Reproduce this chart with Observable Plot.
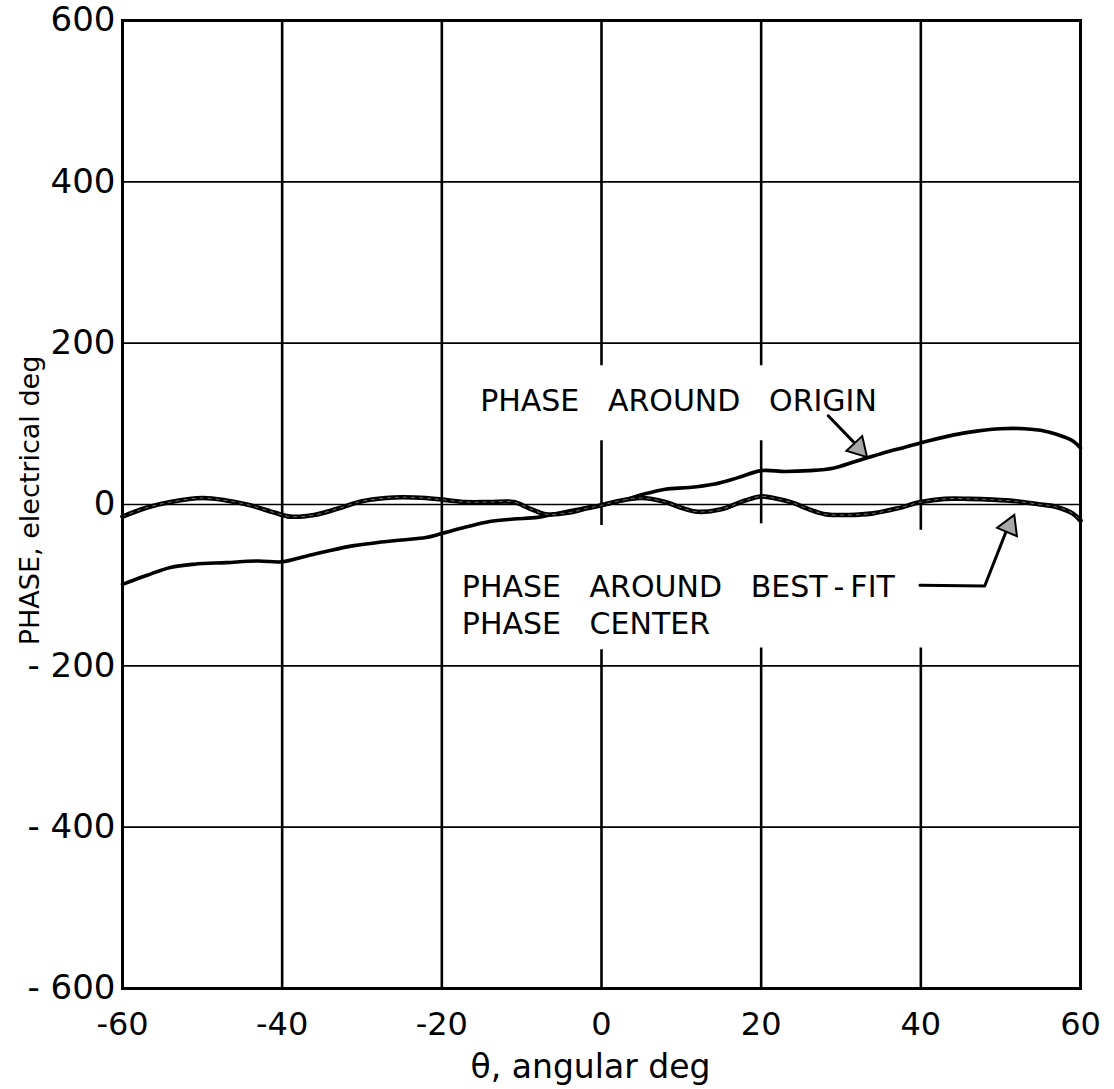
<!DOCTYPE html>
<html>
<head>
<meta charset="utf-8">
<script src="https://cdn.jsdelivr.net/npm/d3@7"></script>
<script src="https://cdn.jsdelivr.net/npm/@observablehq/plot@0.6"></script>
<style>
  body { margin: 0; background: #fff; }
  svg { font-family: "DejaVu Sans", sans-serif; }
</style>
</head>
<body>
<div id="chart"></div>
<script>
// ---- data ----
const xTicks = [-60, -40, -20, 0, 20, 40, 60];
const yTicks = [-600, -400, -200, 0, 200, 400, 600];
const hGrid = [-400, -200, 0, 200, 400];

// vertical grid segments (broken around the annotations)
const vGridX  = [-40, -20, 0, 0, 0, 20, 20, 20, 40, 40];
const vGridY1 = [600, 600, 600, 79, -180, 600, 79, -178, 600, -178];
const vGridY2 = [-600, -600, 172, -26, -600, 172, -24, -600, -32, -600];

// Phase around origin
const originTheta = [-60, -57, -54, -51, -47, -43, -40, -37, -34, -31, -28, -25, -22, -20, -17, -14, -11, -8, -5, -2, 0, 3, 5, 8, 11, 14, 17, 20, 23, 26, 29, 32, 35, 38, 41, 44, 47, 50, 53, 55, 57, 59, 60];
const originPhase = [-99, -88, -78, -74, -72, -70, -71, -64, -57, -51, -47, -44, -41, -36, -28, -21, -18, -16, -10, -4, -1, 6, 12, 19, 21, 25, 33, 42, 41, 42, 45, 54, 63, 71, 79, 86, 91, 94, 94, 92, 87, 79, 70];

// Phase around best-fit phase center
const bestTheta = [-60, -57, -54, -50, -47, -44, -41, -39, -36, -33, -30, -27, -25, -22, -20, -17, -14, -11, -9, -7, -4, -2, 0, 2, 5, 8, 10, 12, 15, 18, 20, 22, 24, 26, 28, 31, 34, 37, 40, 43, 46, 49, 52, 55, 57, 59, 60];
const bestPhase = [-15, -4, 3, 8, 5, -1, -10, -15, -13, -5, 4, 8, 9, 8, 6, 3, 3, 3, -5, -12, -10, -5, -1, 4, 8, 3, -4, -9, -6, 5, 10, 7, 2, -6, -12, -13, -11, -5, 3, 7, 7, 6, 4, 0, -3, -11, -20];

// annotations
const annoText = ["PHASE AROUND ORIGIN", "PHASE AROUND BEST\u2009-\u2009FIT", "PHASE CENTER"];
const annoX = [-15.2, -17.5, -17.5];
const annoY = [116, -115, -161];

// arrows (shaft polylines + heads)
const shaftId = [1, 1, 2, 2, 2];
const shaftX = [28.4, 32.4, 39.9, 48.0, 50.7];
const shaftY = [110, 69, -100, -101, -33];
const headX = [32.2, 51.1];
const headY = [70, -27];
const headAngle = [137, 23];

const xLabel = "θ, angular deg";
const yLabel = "PHASE, electrical deg";

// ---- tables ----
const origin = originTheta.map((t, i) => ({theta: t, phase: originPhase[i]}));
const best = bestTheta.map((t, i) => ({theta: t, phase: bestPhase[i]}));
const vgrid = vGridX.map((x, i) => ({x, y1: vGridY1[i], y2: vGridY2[i]}));
const anno = annoText.map((t, i) => ({text: t.replace(/ /g, "\u00a0\u00a0\u00a0"), x: annoX[i], y: annoY[i]}));
const shafts = shaftX.map((x, i) => ({id: shaftId[i], x, y: shaftY[i]}));
const heads = headX.map((x, i) => ({x, y: headY[i], a: headAngle[i]}));

const chart = Plot.plot({
  width: 1114,
  height: 1089,
  marginLeft: 122,
  marginRight: 34,
  marginTop: 20,
  marginBottom: 101,
  x: {domain: [-60, 60]},
  y: {domain: [-600, 600]},
  marks: [
    Plot.ruleY(hGrid, {stroke: "#000", strokeWidth: 1.6}),
    Plot.ruleX(vgrid, {x: "x", y1: "y1", y2: "y2", stroke: "#000", strokeWidth: 2.6}),
    Plot.line(origin, {x: "theta", y: "phase", curve: "catmull-rom", stroke: "#000", strokeWidth: 3.6}),
    Plot.line(best, {x: "theta", y: "phase", curve: "catmull-rom", stroke: "#000", strokeWidth: 4.6}),
    Plot.line(best, {x: "theta", y: "phase", curve: "catmull-rom", stroke: "#777", strokeWidth: 1, strokeDasharray: "3 5"}),
    Plot.text(anno, {x: "x", y: "y", text: "text", textAnchor: "start", lineAnchor: "bottom", fontSize: 30, fill: "#000"}),
    Plot.line(shafts, {x: "x", y: "y", z: "id", stroke: "#000", strokeWidth: 3}),
    Plot.dot(heads, {x: "x", y: "y", rotate: "a", symbol: "triangle", r: 8, fill: "#a8a8a8", stroke: "#000", strokeWidth: 2}),
    Plot.frame({stroke: "#000", strokeWidth: 3}),
    Plot.axisX(xTicks, {tickSize: 0, tickPadding: 24, fontSize: 32, label: null,
      tickFormat: d => d < 0 ? "-" + Math.abs(d) : String(d)}),
    Plot.axisY(yTicks, {tickSize: 0, tickPadding: 7, fontSize: 34, label: null,
      tickFormat: d => d < 0 ? "- " + Math.abs(d) : String(d)}),
    Plot.text([xLabel], {frameAnchor: "bottom", textAnchor: "middle", lineAnchor: "bottom", dy: 89, dx: -11, fontSize: 33, fill: "#000"}),
    Plot.text([yLabel], {frameAnchor: "left", textAnchor: "middle", lineAnchor: "middle", rotate: -90, dx: -92, dy: -4, fontSize: 27, fill: "#000"})
  ]
});
document.getElementById("chart").appendChild(chart);
</script>
</body>
</html>
